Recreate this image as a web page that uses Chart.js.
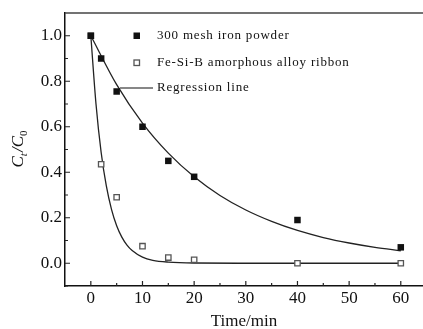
<!DOCTYPE html>
<html>
<head>
<meta charset="utf-8">
<script src="https://cdn.jsdelivr.net/npm/chart.js@4.4.0/dist/chart.umd.min.js"></script>
<style>
  body { margin: 0; background: #fff; }
  #wrap { width: 423px; height: 329px; }
</style>
</head>
<body>
<div id="wrap"><canvas id="decayChart" width="423" height="329"></canvas></div>
<script>
// measured points
const timePoints = [0, 2, 5, 10, 15, 20, 40, 60];
const ironPowder = [1.0, 0.90, 0.755, 0.60, 0.45, 0.38, 0.19, 0.07];
const alloyRibbon = [1.0, 0.435, 0.29, 0.075, 0.025, 0.015, 0.0, 0.0];

// regression curves
const ironFitTime = [0, 5, 10, 15, 20, 25, 30, 35, 40, 45, 50, 55, 60];
const ironFitValue = [1.0, 0.785, 0.616, 0.484, 0.38, 0.298, 0.234, 0.184, 0.144, 0.113, 0.089, 0.07, 0.055];
const alloyFitTime = [0, 1, 2, 3, 4, 5, 6, 7, 8, 10, 12, 15, 20, 30, 40, 50, 60];
const alloyFitValue = [1.0, 0.70, 0.487, 0.34, 0.237, 0.165, 0.115, 0.08, 0.056, 0.027, 0.013, 0.005, 0.001, 0, 0, 0, 0];

const xTicks = [0, 10, 20, 30, 40, 50, 60];
const yTicks = [0.0, 0.2, 0.4, 0.6, 0.8, 1.0];
const xMinor = [5, 15, 25, 35, 45, 55];
const yMinor = [-0.1, 0.1, 0.3, 0.5, 0.7, 0.9];

const serif = '"Liberation Serif", "DejaVu Serif", serif';

function toXY(xs, ys) {
    return xs.map((x, i) => ({ x: x, y: ys[i] }));
}

// inner ticks, top border, legend and y title
const decorations = {
    id: 'decorations',
    afterDraw(chart) {
        const ctx = chart.ctx;
        const area = chart.chartArea;
        const xs = chart.scales.x;
        const ys = chart.scales.y;
        ctx.save();
        ctx.strokeStyle = '#222';
        ctx.lineWidth = 1.2;
        ctx.beginPath();
        xTicks.forEach(v => {
            const px = xs.getPixelForValue(v);
            ctx.moveTo(px, area.bottom); ctx.lineTo(px, area.bottom - 5);
        });
        xMinor.forEach(v => {
            const px = xs.getPixelForValue(v);
            ctx.moveTo(px, area.bottom); ctx.lineTo(px, area.bottom - 3);
        });
        yTicks.forEach(v => {
            const py = ys.getPixelForValue(v);
            ctx.moveTo(area.left, py); ctx.lineTo(area.left + 5, py);
        });
        yMinor.forEach(v => {
            const py = ys.getPixelForValue(v);
            ctx.moveTo(area.left, py); ctx.lineTo(area.left + 3, py);
        });
        ctx.stroke();

        // top border
        ctx.strokeStyle = '#444';
        ctx.lineWidth = 1.5;
        ctx.beginPath();
        ctx.moveTo(area.left, area.top);
        ctx.lineTo(chart.width, area.top);
        ctx.stroke();

        // legend
        ctx.font = '13px ' + serif;
        ctx.letterSpacing = '0.8px';
        ctx.fillStyle = '#111';
        ctx.textBaseline = 'middle';
        ctx.textAlign = 'left';
        ctx.fillRect(133.5, 32.5, 6.5, 6.5);
        ctx.fillText('300 mesh iron powder', 157, 36);
        ctx.strokeStyle = '#555';
        ctx.lineWidth = 1.3;
        ctx.fillStyle = '#fff';
        ctx.fillRect(134, 60, 5.5, 5.5);
        ctx.strokeRect(134, 60, 5.5, 5.5);
        ctx.fillStyle = '#111';
        ctx.fillText('Fe-Si-B amorphous alloy ribbon', 157, 63);
        ctx.strokeStyle = '#111';
        ctx.lineWidth = 1.2;
        ctx.beginPath();
        ctx.moveTo(120, 88); ctx.lineTo(153, 88);
        ctx.stroke();
        ctx.fillText('Regression line', 157, 88);
        ctx.letterSpacing = '0px';

        // y title C_t/C_0
        ctx.translate(19, 149);
        ctx.rotate(-Math.PI / 2);
        ctx.textAlign = 'left';
        ctx.textBaseline = 'middle';
        const big = 'italic 17px ' + serif;
        const small = 'italic 11px ' + serif;
        ctx.font = big;
        let w = ctx.measureText('C').width * 2 + ctx.measureText('/').width;
        ctx.font = small;
        w += ctx.measureText('t').width + ctx.measureText('0').width + 1;
        let x = -w / 2;
        ctx.font = big;
        ctx.fillText('C', x, 0); x += ctx.measureText('C').width;
        ctx.font = small;
        ctx.fillText('t', x, 5); x += ctx.measureText('t').width + 1;
        ctx.font = big;
        ctx.fillText('/C', x, 0); x += ctx.measureText('/C').width;
        ctx.font = '11px ' + serif;
        ctx.fillText('0', x, 5);
        ctx.restore();
    }
};

const ctx = document.getElementById('decayChart').getContext('2d');
const decayChart = new Chart(ctx, {
    type: 'scatter',
    data: {
        datasets: [
            {
                label: '300 mesh iron powder',
                data: toXY(timePoints, ironPowder),
                pointStyle: 'rect',
                pointRadius: 4.6,
                backgroundColor: '#111',
                borderColor: '#111',
                borderWidth: 0
            },
            {
                label: 'Fe-Si-B amorphous alloy ribbon',
                data: toXY(timePoints, alloyRibbon),
                pointStyle: 'rect',
                pointRadius: 3.8,
                backgroundColor: '#fff',
                borderColor: '#555',
                borderWidth: 1.3
            },
            {
                label: 'Regression line',
                data: toXY(ironFitTime, ironFitValue),
                showLine: true,
                pointRadius: 0,
                borderColor: '#222',
                borderWidth: 1.3,
                cubicInterpolationMode: 'monotone'
            },
            {
                label: 'Regression line 2',
                data: toXY(alloyFitTime, alloyFitValue),
                showLine: true,
                pointRadius: 0,
                borderColor: '#222',
                borderWidth: 1.3,
                cubicInterpolationMode: 'monotone'
            }
        ]
    },
    options: {
        responsive: false,
        animation: false,
        layout: { autoPadding: false, padding: { left: 0, right: 0, top: 13, bottom: 0 } },
        plugins: {
            legend: { display: false },
            tooltip: { enabled: false }
        },
        scales: {
            x: {
                type: 'linear',
                min: -5,
                max: 64.3,
                afterBuildTicks: scale => { scale.ticks = xTicks.map(v => ({ value: v })); },
                afterFit: scale => {
                    scale.height = 43;
                    scale.paddingLeft = 0;
                    scale.paddingRight = 0;
                },
                grid: { display: false, drawTicks: false },
                border: { display: true, color: '#111', width: 1.5 },
                ticks: {
                    padding: 2,
                    color: '#111',
                    font: { family: serif, size: 17 },
                    maxRotation: 0
                },
                title: {
                    display: true,
                    text: 'Time/min',
                    color: '#111',
                    font: { family: serif, size: 17, lineHeight: 1 },
                    padding: { top: 0, bottom: -1 }
                }
            },
            y: {
                min: -0.1,
                max: 1.1,
                afterBuildTicks: scale => { scale.ticks = yTicks.map(v => ({ value: v })); },
                afterFit: scale => {
                    scale.width = 65;
                    scale.paddingTop = 0;
                    scale.paddingBottom = 0;
                },
                grid: { display: false, drawTicks: false },
                border: { display: true, color: '#111', width: 1.5 },
                ticks: {
                    padding: 3,
                    color: '#111',
                    font: { family: serif, size: 17 },
                    callback: v => v.toFixed(1)
                }
            }
        }
    },
    plugins: [decorations]
});
</script>
</body>
</html>
